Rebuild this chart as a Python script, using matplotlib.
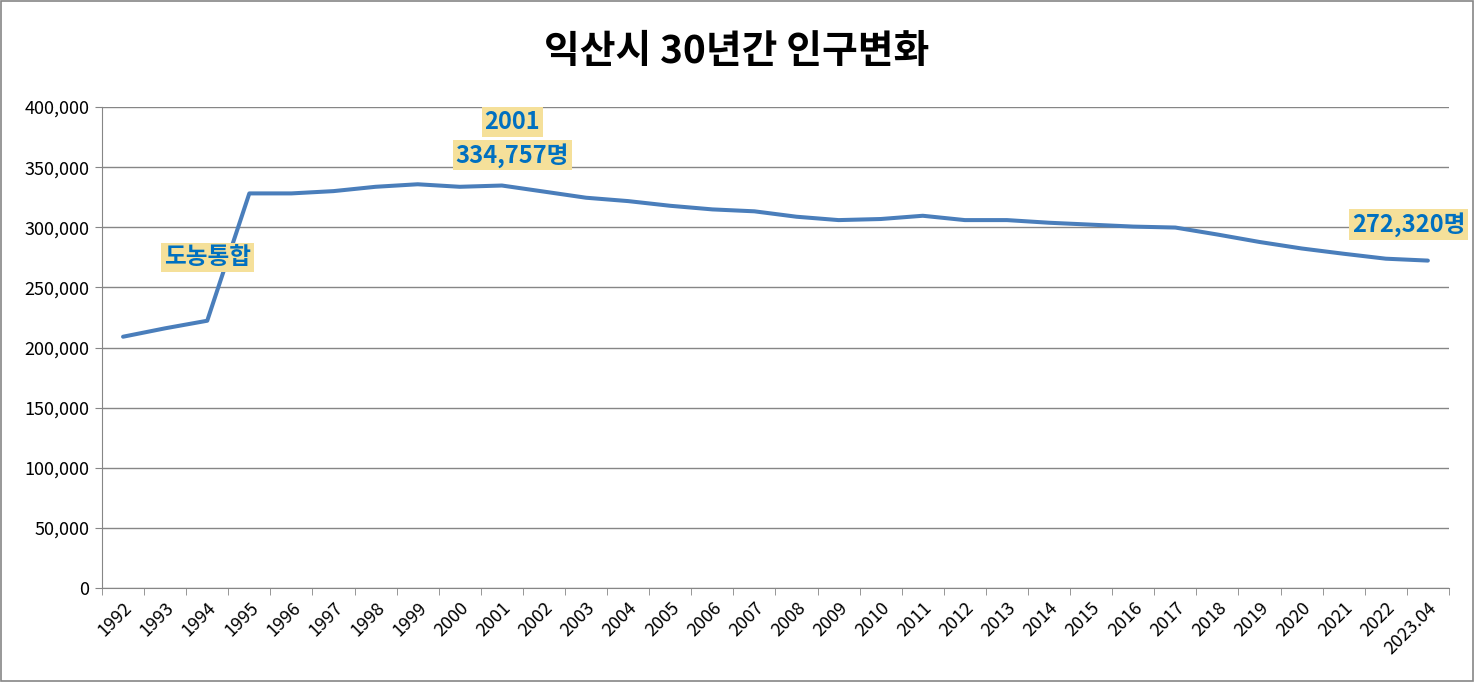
import numpy as np
import matplotlib.pyplot as plt
from matplotlib.ticker import FuncFormatter, FixedLocator

plt.rcParams['font.family'] = ['Noto Sans CJK KR', 'DejaVu Sans']

# 연도별 인구
years = ['1992', '1993', '1994', '1995', '1996', '1997', '1998', '1999',
         '2000', '2001', '2002', '2003', '2004', '2005', '2006', '2007',
         '2008', '2009', '2010', '2011', '2012', '2013', '2014', '2015',
         '2016', '2017', '2018', '2019', '2020', '2021', '2022', '2023.04']
population = [209000, 216000, 222300, 328200, 328200, 330100, 333700, 335800,
              333700, 334757, 329700, 324600, 321800, 317900, 314900, 313300,
              308800, 306000, 306900, 309600, 306000, 306000, 303800, 302200,
              300600, 299800, 294000, 287800, 282400, 278000, 273900, 272320]

title = '익산시 30년간 인구변화'
line_color = '#4A7EBB'
label_color = '#0070C0'
box_color = '#F5E09A'

fig = plt.figure(figsize=(14.74, 6.82), dpi=100)
ax = fig.add_axes([0.0692, 0.1378, 0.9138, 0.7052])

x = np.arange(len(years))
ax.plot(x, population, color=line_color, linewidth=2.9, solid_capstyle='round', zorder=3)

ax.set_xlim(-0.5, len(years) - 0.5)
ax.set_ylim(0, 400000)
ax.set_yticks(np.arange(0, 400001, 50000))
ax.yaxis.set_major_formatter(FuncFormatter(lambda v, p: f'{int(v):,}'))
ax.grid(axis='y', color='#868686', linewidth=1.0)
ax.set_axisbelow(True)

ax.set_xticks(x)
ax.set_xticklabels(years, rotation=45, ha='right', rotation_mode='anchor')
ax.xaxis.set_minor_locator(FixedLocator(np.arange(-0.5, len(years), 1)))
ax.tick_params(axis='x', which='major', length=0, pad=8, labelsize=13)
ax.tick_params(axis='x', which='minor', length=5, color='#868686')
ax.tick_params(axis='y', length=5, color='#868686', labelsize=13, pad=4)

for s in ['top', 'right']:
    ax.spines[s].set_visible(False)
for s in ['left', 'bottom']:
    ax.spines[s].set_color('#868686')

fig.text(0.5, 0.925, title, ha='center', va='center', fontsize=28, fontweight='bold')

box = dict(boxstyle='square,pad=0.12', facecolor=box_color, edgecolor='none')
ax.text(2.0, 275000, '도농통합', ha='center', va='center', fontsize=17,
        color=label_color, fontweight='bold', bbox=box, zorder=4)
ax.text(9.25, 387500, '2001', ha='center', va='center', fontsize=17,
        color=label_color, fontweight='bold', bbox=box, zorder=4)
ax.text(9.25, 360000, f'{population[9]:,}명', ha='center', va='center', fontsize=17,
        color=label_color, fontweight='bold', bbox=box, zorder=4)
ax.text(30.55, 302500, f'{population[-1]:,}명', ha='center', va='center', fontsize=17,
        color=label_color, fontweight='bold', bbox=box, zorder=4)

# 바깥 테두리
fig.patches.append(plt.Rectangle((0.001, 0.001), 0.998, 0.997, transform=fig.transFigure,
                                 fill=False, edgecolor='#868686', linewidth=1.2))

fig.savefig('out.png', dpi=100)
